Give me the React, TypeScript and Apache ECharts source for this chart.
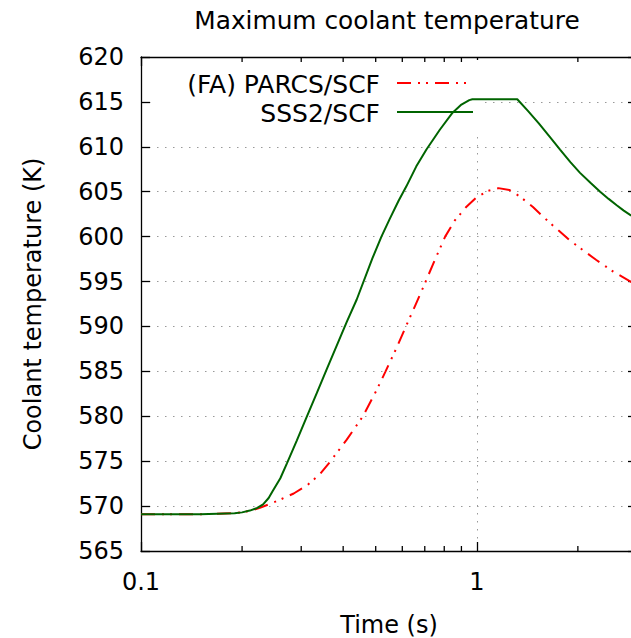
import React, { useEffect, useRef } from "react";
import * as echarts from "echarts";

const timeSSS2 = [0.1, 0.15, 0.19, 0.2, 0.211, 0.222, 0.231, 0.24, 0.247, 0.26, 0.272, 0.291, 0.312, 0.334, 0.358, 0.383, 0.41, 0.439, 0.489, 0.52, 0.551, 0.585, 0.617, 0.66, 0.708, 0.776, 0.847, 0.9, 0.95, 0.97, 1.32, 1.42, 1.53, 1.65, 1.77, 1.9, 2.03, 2.18, 2.33, 2.47, 2.61, 2.74, 2.87, 3.0];
const tempSSS2 = [569.1, 569.1, 569.2, 569.3, 569.5, 569.8, 570.2, 570.9, 571.7, 573.1, 574.75, 577.3, 580.0, 582.6, 585.3, 587.9, 590.5, 593.0, 597.6, 600.0, 602.0, 604.0, 605.6, 607.8, 609.7, 611.9, 613.8, 614.7, 615.2, 615.3, 615.3, 614.0, 612.6, 611.1, 609.7, 608.3, 607.1, 606.0, 605.0, 604.2, 603.5, 602.9, 602.4, 602.0];

const timePARCS = [0.1, 0.15, 0.19, 0.21, 0.226, 0.259, 0.285, 0.312, 0.34, 0.365, 0.41, 0.458, 0.503, 0.535, 0.575, 0.615, 0.655, 0.695, 0.75, 0.805, 0.86, 0.93, 1.0, 1.08, 1.16, 1.25, 1.34, 1.47, 1.61, 1.75, 1.89, 2.07, 2.27, 2.55, 2.87, 3.0];
const tempPARCS = [569.1, 569.1, 569.2, 569.45, 569.8, 570.7, 571.4, 572.3, 573.5, 574.9, 577.4, 580.0, 582.9, 585.0, 587.5, 590.0, 592.3, 594.5, 597.4, 600.0, 601.8, 603.3, 604.4, 605.1, 605.4, 605.2, 604.5, 603.3, 601.9, 600.7, 599.6, 598.5, 597.4, 596.1, 595.0, 594.6];

const xTickLabels = ["0.1", "1"];
const minorTicks = [0.2, 0.3, 0.4, 0.5, 0.6, 0.7, 0.8, 0.9, 2];
const seriesNames = ["(FA) PARCS/SCF", "SSS2/SCF"];

const X_MIN = 0.1;
const X_MAX = 3;
const Y_MIN = 565;
const Y_MAX = 620;

const FONT = "DejaVu Sans";
const RED = "#ff0000";
const GREEN = "#006400";
const RED_DASH = [14, 7, 2, 6, 2, 7];

export default function App() {
  const ref = useRef<HTMLDivElement>(null);
  useEffect(() => {
    if (!ref.current) return;
    const chart = echarts.init(ref.current, null, { renderer: "svg" });
    const zip = (xs: number[], ys: number[]) => xs.map((x, i) => [x, ys[i]]);
    const axisCommon = {
      axisLine: { show: true, onZero: false, lineStyle: { color: "#000", width: 1.3 } },
      axisTick: { show: true, inside: true, length: 9, lineStyle: { color: "#000", width: 1.3 } },
    };
    const xLabelFmt = (v: number) => {
      for (const s of xTickLabels) if (Math.abs(v - parseFloat(s)) < 1e-9) return s;
      return "";
    };
    chart.setOption({
      animation: false,
      textStyle: { fontFamily: FONT },
      title: {
        text: "Maximum coolant temperature",
        left: 382,
        textAlign: "center",
        top: 3,
        textStyle: { fontFamily: FONT, fontSize: 24.8, fontWeight: "normal", color: "#000" },
      },
      grid: { left: 141, top: 57, right: -6, bottom: 87, containLabel: false, outerBoundsMode: "none" },
      xAxis: [
        {
          type: "log",
          logBase: 10,
          min: X_MIN,
          max: X_MAX,
          name: "Time (s)",
          nameLocation: "middle",
          nameGap: 62,
          nameTextStyle: { fontFamily: FONT, fontSize: 24, color: "#000" },
          ...axisCommon,
          axisLabel: { formatter: xLabelFmt, margin: 19, fontFamily: FONT, fontSize: 24, color: "#000" },
          splitLine: { show: true, lineStyle: { color: "#999", width: 1, type: [1.5, 6.5] } },
        },
        {
          type: "log",
          logBase: 10,
          min: X_MIN,
          max: X_MAX,
          position: "top",
          ...axisCommon,
          axisLabel: { show: false },
          splitLine: { show: false },
        },
      ],
      yAxis: [
        {
          type: "value",
          min: Y_MIN,
          max: Y_MAX,
          interval: 5,
          name: "Coolant temperature (K)",
          nameLocation: "middle",
          nameGap: 96,
          nameTextStyle: { fontFamily: FONT, fontSize: 24, color: "#000" },
          ...axisCommon,
          axisLabel: { margin: 17, fontFamily: FONT, fontSize: 24, color: "#000" },
          splitLine: { show: true, lineStyle: { color: "#999", width: 1, type: [1.5, 6.5] } },
        },
        {
          type: "value",
          min: Y_MIN,
          max: Y_MAX,
          interval: 5,
          position: "right",
          ...axisCommon,
          axisLabel: { show: false },
          splitLine: { show: false },
        },
      ],
      graphic: [
        { type: "rect", z: 1, silent: true, shape: { x: 153, y: 60, width: 331, height: 72 }, style: { fill: "#fff" } },
        {
          type: "text", z: 10, x: 380, y: 84,
          style: { text: seriesNames[0], font: `25px "${FONT}"`, fill: "#000", align: "right", verticalAlign: "middle" },
        },
        {
          type: "text", z: 10, x: 380, y: 113,
          style: { text: seriesNames[1], font: `25px "${FONT}"`, fill: "#000", align: "right", verticalAlign: "middle" },
        },
        {
          type: "line", z: 10, shape: { x1: 397, y1: 83, x2: 473, y2: 83 },
          style: { stroke: RED, lineWidth: 2, lineDash: RED_DASH },
        },
        {
          type: "line", z: 10, shape: { x1: 397, y1: 112, x2: 473, y2: 112 },
          style: { stroke: GREEN, lineWidth: 2 },
        },
      ],
      series: [
        {
          name: seriesNames[0],
          type: "line",
          data: zip(timePARCS, tempPARCS),
          showSymbol: false,
          z: 3,
          lineStyle: { color: RED, width: 2, type: RED_DASH },
        },
        {
          name: seriesNames[1],
          type: "line",
          data: zip(timeSSS2, tempSSS2),
          showSymbol: false,
          z: 4,
          lineStyle: { color: GREEN, width: 2 },
        },
        {
          type: "custom",
          silent: true,
          z: 5,
          clip: false,
          data: minorTicks.map((t) => [t, Y_MIN]),
          encode: { x: 0, y: 1 },
          renderItem: (params: any, api: any) => {
            const x = api.coord([api.value(0), Y_MIN])[0];
            const cs = params.coordSys;
            const st = { stroke: "#000", lineWidth: 1.3 };
            return {
              type: "group",
              children: [
                { type: "line", shape: { x1: x, y1: cs.y + cs.height, x2: x, y2: cs.y + cs.height - 5 }, style: st },
                { type: "line", shape: { x1: x, y1: cs.y, x2: x, y2: cs.y + 5 }, style: st },
              ],
            };
          },
        },
      ],
    });
    return () => chart.dispose();
  }, []);
  return <div ref={ref} style={{ position: "absolute", left: 0, top: 0, width: 631, height: 638 }} />;
}
